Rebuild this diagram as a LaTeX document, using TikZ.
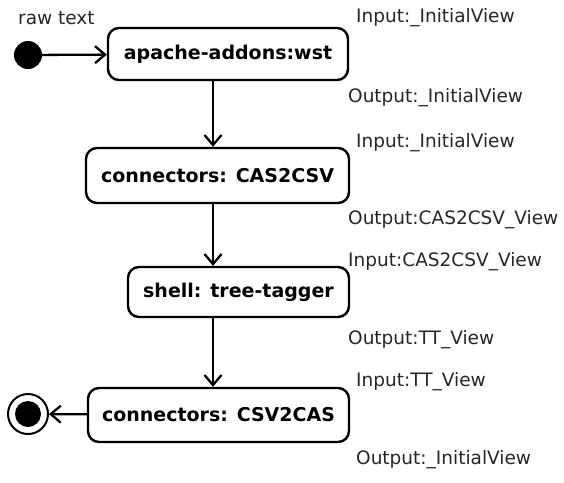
\documentclass[tikz,border=0pt]{standalone}
\usepackage{fontspec}
\setmainfont{DejaVu Sans}
\usetikzlibrary{arrows.meta,positioning}
\tikzstyle{block} = [rectangle, draw, line width=2.4pt, rounded corners=11pt,
      font=\fontsize{19}{22}\selectfont\bfseries, inner sep=0pt]
\tikzstyle{line} = [draw, line width=2.3pt, -{Straight Barb[length=10pt,width=17pt,line width=2.3pt]}]
\tikzstyle{view} = [anchor=west, inner sep=0pt, font=\fontsize{18.5}{21}\selectfont, text=black!85]

\begin{document}
\begin{tikzpicture}[x=1pt, y=-1pt]
	  \useasboundingbox (0,0) rectangle (564,482);
	  % Nodes
	  \node [block, minimum width=240pt, minimum height=52pt] (wst) at (228,54) {apache-addons:wst};
	  \node [block, minimum width=263pt, minimum height=55pt] (cas2csv) at (217.5,175.5) {connectors: CAS2CSV};
	  \node [block, minimum width=221pt, minimum height=50pt] (tagger) at (238.5,292) {shell: tree-tagger};
	  \node [block, minimum width=261pt, minimum height=54pt] (csv2cas) at (218.5,415) {connectors: CSV2CAS};
	  \node [circle, fill=black, minimum size=28pt, inner sep=0pt] (start) at (28,55) {};
	  \node [circle, draw, line width=2pt, minimum size=40pt, inner sep=0pt] (end) at (28,414) {};
	  \node [circle, fill=black, minimum size=26pt, inner sep=0pt] at (end) {};
	  \coordinate (axis) at (213,0);
	  % Views
	  \node [view] (raw) at (18,18) {raw text};
	  \node [view] (in1) at (356,18) {Input:\_InitialView};
	  \node [view] (out1) at (348,98) {Output:\_InitialView};
	  \node [view] (in2) at (356,143) {Input:\_InitialView};
	  \node [view] (out2) at (348,220) {Output:CAS2CSV\_View};
	  \node [view] (in3) at (348,262) {Input:CAS2CSV\_View};
	  \node [view] (out3) at (348,340) {Output:TT\_View};
	  \node [view] (in4) at (356,382) {Input:TT\_View};
	  \node [view] (out4) at (356,460) {Output:\_InitialView};
	  % Flow
	  \path [line] (start) -- (wst);
	  \path [line] (wst.south -| axis) -- (cas2csv.north -| axis);
	  \path [line] (cas2csv.south -| axis) -- (tagger.north -| axis);
	  \path [line] (tagger.south -| axis) -- (csv2cas.north -| axis);
	  \path [line] (csv2cas) -- (end);
\end{tikzpicture}
\end{document}
